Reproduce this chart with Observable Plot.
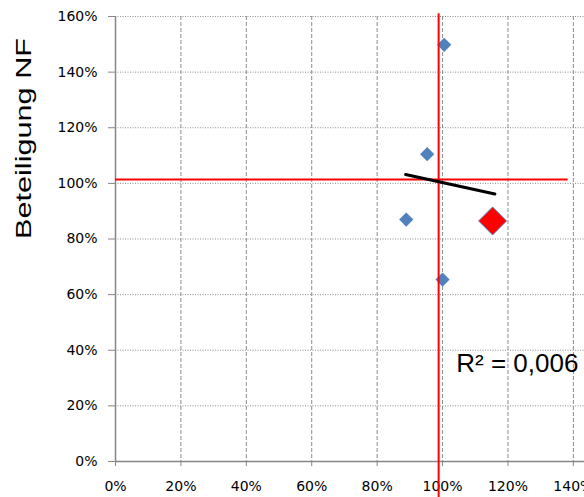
<!DOCTYPE html>
<html>
<head>
<meta charset="utf-8">
<script src="https://cdn.jsdelivr.net/npm/d3@7"></script>
<script src="https://cdn.jsdelivr.net/npm/@observablehq/plot@0.6"></script>
<style>
  html, body { margin: 0; padding: 0; background: white; overflow: hidden; }
</style>
</head>
<body>
<div id="chart"></div>
<script>
// Data (percent values)
const pointX = [100.5, 95.3, 88.9, 100.0];
const pointY = [149.8, 110.5, 87.0, 65.4];
const highlightX = [115.3];
const highlightY = [86.5];
const trendX = [88.7, 116.0];
const trendY = [103.2, 96.2];
const refX = [98.8];
const refY = [101.4];
const xTicks = [0, 20, 40, 60, 80, 100, 120, 140];
const yTicks = [0, 20, 40, 60, 80, 100, 120, 140, 160];
const yLabel = "Beteiligung NF";
const r2Label = "R² = 0,006";

const points = pointX.map((x, i) => ({x, y: pointY[i]}));
const highlight = highlightX.map((x, i) => ({x, y: highlightY[i]}));
const trend = trendX.map((x, i) => ({x, y: trendY[i]}));
const pct = d => d + "%";

const chart = Plot.plot({
  width: 584,
  height: 497,
  marginLeft: 115,
  marginRight: 0,
  marginTop: 16,
  marginBottom: 36,
  x: {domain: [0, 143.4]},
  y: {domain: [0, 160]},
  style: {fontFamily: "DejaVu Sans", fontSize: "14px", background: "white", color: "black"},
  marks: [
    Plot.gridX(xTicks.slice(1), {stroke: "#8c8c8c", strokeOpacity: 1, strokeDasharray: "4,2"}),
    Plot.gridY(yTicks.slice(1), {stroke: "#8c8c8c", strokeOpacity: 1, strokeDasharray: "1,1.5"}),
    Plot.ruleX([0], {stroke: "#868686", strokeWidth: 1.5}),
    Plot.ruleY([0], {stroke: "#868686", strokeWidth: 1.5}),
    Plot.axisY(yTicks, {tickSize: 7, tickPadding: 11, tickFormat: pct, stroke: "#868686", fill: "black", label: null}),
    Plot.axisX(xTicks, {tickSize: 5, tickPadding: 15, tickFormat: pct, stroke: "#868686", fill: "black", label: null}),
    Plot.dot(points, {x: "x", y: "y", symbol: "diamond2", r: 6.4, fill: "#4F81BD"}),
    Plot.dot(highlight, {x: "x", y: "y", symbol: "diamond2", r: 12.6, fill: "red", stroke: "#4F81BD", strokeWidth: 1}),
    Plot.ruleY(refY, {stroke: "red", strokeWidth: 2, x1: 0, x2: 138.4}),
    Plot.ruleX(refX, {stroke: "red", strokeWidth: 2, y1: -13, y2: 161}),
    Plot.line(trend, {x: "x", y: "y", stroke: "black", strokeWidth: 3}),
    Plot.text([r2Label], {x: 104.2, y: 35.1, textAnchor: "start", lineAnchor: "middle", fontSize: 26, fontFamily: "Liberation Sans", fill: "black"}),
    Plot.text([yLabel], {frameAnchor: "left", rotate: -90, dx: -92, fontSize: 22, fontFamily: "Liberation Sans", fill: "black", className: "ylab"})
  ]
});
document.getElementById("chart").appendChild(chart);
const yl = chart.querySelector(".ylab text");
if (yl) { yl.setAttribute("textLength", "201"); yl.setAttribute("lengthAdjust", "spacingAndGlyphs"); }
</script>
</body>
</html>
